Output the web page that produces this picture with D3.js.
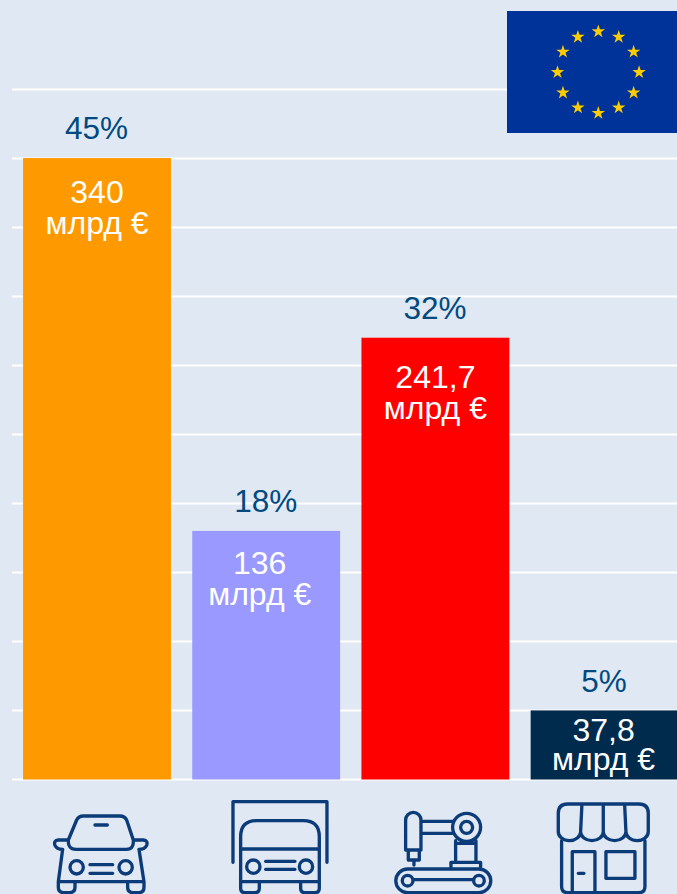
<!DOCTYPE html>
<html>
<head>
<meta charset="utf-8">
<script src="https://cdn.jsdelivr.net/npm/d3@7"></script>
<style>
html, body { margin: 0; padding: 0; background: #e0e8f3; overflow: hidden; }
svg { display: block; }
text { font-family: "Liberation Sans", Arial, sans-serif; }
</style>
</head>
<body>
<div id="graph"></div>
<script>
const categories = ["cars", "trucks", "industry", "retail"];
const values = [340, 136, 241.7, 37.8];
const valueLabels = ["340", "136", "241,7", "37,8"];
const shares = ["45%", "18%", "32%", "5%"];
const unitLabel = "млрд €";
const barColors = ["#ff9900", "#9999ff", "#ff0000", "#002b4d"];
const gridValues = [0, 37.75, 75.5, 113.25, 151, 188.75, 226.5, 264.25, 302, 339.75, 377.5];

const width = 677, height = 894;
const iconColor = "#0b3b78";

const svg = d3.select("#graph").append("svg")
    .attr("width", width)
    .attr("height", height)
    .style("background", "#e0e8f3");

const x = d3.scaleBand()
    .domain(categories)
    .range([12.4, 689.2])
    .paddingInner(0.126)
    .paddingOuter(0.063);

const y = d3.scaleLinear()
    .domain([0, 377.5])
    .range([779.5, 89.5]);

// gridlines
svg.append("g")
  .selectAll("line")
  .data(gridValues)
  .join("line")
    .attr("x1", 12)
    .attr("x2", width)
    .attr("y1", d => y(d))
    .attr("y2", d => y(d))
    .attr("stroke", "#fff")
    .attr("stroke-width", 2);

// bars
const rows = categories.map((c, i) => ({ c, v: values[i], label: valueLabels[i], share: shares[i], color: barColors[i], i }));

svg.append("g")
  .selectAll("rect")
  .data(rows)
  .join("rect")
    .attr("x", d => x(d.c))
    .attr("y", d => y(d.v))
    .attr("width", x.bandwidth())
    .attr("height", d => y(0) - y(d.v))
    .attr("fill", d => d.color);

// percent above each bar
const shareDy = [19, 19, 19, 18];
svg.append("g")
  .selectAll("text")
  .data(rows)
  .join("text")
    .attr("x", d => x(d.c) + x.bandwidth() / 2 - 0.5)
    .attr("y", d => y(d.v) - shareDy[d.i])
    .attr("text-anchor", "middle")
    .attr("font-size", 31.5)
    .attr("fill", "#004a80")
    .text(d => d.share);

// amount inside each bar, the offsets are not regular in the original
const labelDy = [45, 43, 50, 31];
const labelDx = [0, -6.5, 0, -1];
const lineGap = [31, 31, 31, 29];
const amount = svg.append("g")
  .selectAll("g")
  .data(rows)
  .join("g")
    .attr("transform", d => `translate(${x(d.c) + x.bandwidth() / 2 + labelDx[d.i]},${y(d.v) + labelDy[d.i]})`)
    .attr("text-anchor", "middle")
    .attr("fill", "#fff")
    .attr("font-size", 32);
amount.append("text").text(d => d.label);
amount.append("text").attr("y", d => lineGap[d.i]).text(unitLabel);

// EU flag
const flag = svg.append("g");
flag.append("rect")
    .attr("x", 507).attr("y", 11)
    .attr("width", 170).attr("height", 122)
    .attr("fill", "#003399");
const star = d3.symbol().type(d3.symbolStar).size(56);
flag.selectAll("path")
  .data(d3.range(12))
  .join("path")
    .attr("d", star)
    .attr("fill", "#ffcc00")
    .attr("transform", d => {
      const a = d * Math.PI / 6;
      return `translate(${598.3 + 40.8 * Math.sin(a)},${72.3 - 40.8 * Math.cos(a)})`;
    });

// icons, traced at 3x so drawn with scale(1/3)
const iconPaths = [
  // car
  [0, "M205,210 L230,150 Q236,138 250,138 H360 Q374,138 380,150 L400,210 Q402,238 380,238 H228 Q203,238 205,210 Z" +
      "M285,165 H322 M205,210 H175 Q160,212 165,226 Q170,238 188,238 M400,210 H430 Q445,212 440,226 Q435,238 417,238" +
      "M188,238 L175,335 H432 L417,238 M175,335 V352 Q175,368 192,368 H208 Q225,368 225,352 V335" +
      "M383,335 V352 Q383,368 400,368 H416 Q432,368 432,352 V335" +
      "M270,284 H338 M270,310 H338" +
      "M250,292 A20,20 0 1 1 210,292 A20,20 0 1 1 250,292 M397,292 A20,20 0 1 1 357,292 A20,20 0 1 1 397,292"],
  // truck
  [0, "M699,277 V95 H981 V277 M722,237 V200 Q722,152 770,152 H910 Q958,152 958,200 V335 H722 V237 H958" +
      "M722,335 V355 Q722,368 735,368 H765 Q778,368 778,355 V335 M902,335 V355 Q902,368 915,368 H945 Q958,368 958,355 V335" +
      "M797,274 H885 M797,298 H885" +
      "M780,290 A20,20 0 1 1 740,290 A20,20 0 1 1 780,290 M938,290 A20,20 0 1 1 898,290 A20,20 0 1 1 938,290"],
  // factory robot
  [340 * 3, "M203,297 H417 A35.5,35.5 0 0 1 417,368 H203 A35.5,35.5 0 0 1 203,297 Z" +
      "M219,332 A16,16 0 1 1 187,332 A16,16 0 1 1 219,332 M433,332 A16,16 0 1 1 401,332 A16,16 0 1 1 433,332 M219,329 H401" +
      "M333,297 V277 H422 V297 M347,277 V212 M408,277 V212 M347,220 H408" +
      "M422,172 A42,42 0 1 1 338,172 A42,42 0 1 1 422,172 M398,172 A18,18 0 1 1 362,172 A18,18 0 1 1 398,172" +
      "M243,154 H342 M243,190 H342" +
      "M197,240 V150 A23,23 0 0 1 243,150 V240 Z M205,240 V270 H238 V240 M222,270 V285"],
  // shop
  [340 * 3, "M655,185 V130 Q655,102 683,102 H897 Q925,102 925,130 V185" +
      "A33.5,27 0 0 1 858,185 A34,27 0 0 1 790,185 A34,27 0 0 1 722,185 A33.5,27 0 0 1 655,185" +
      "M722,185 L726,102 M790,185 V102 M858,185 L854,102" +
      "M665,212 V350 Q665,368 685,368 H895 Q915,368 915,350 V212" +
      "M697,368 V245 H765 V368 M715,310 H732 M798,245 H885 V325 H798 Z"]
];

svg.append("g")
    .attr("transform", "translate(0,770) scale(0.3333)")
  .selectAll("path")
  .data(iconPaths)
  .join("path")
    .attr("transform", d => `translate(${d[0]},0)`)
    .attr("d", d => d[1])
    .attr("fill", "none")
    .attr("stroke", iconColor)
    .attr("stroke-width", 10)
    .attr("stroke-linejoin", "round")
    .attr("stroke-linecap", "round");
</script>
</body>
</html>
